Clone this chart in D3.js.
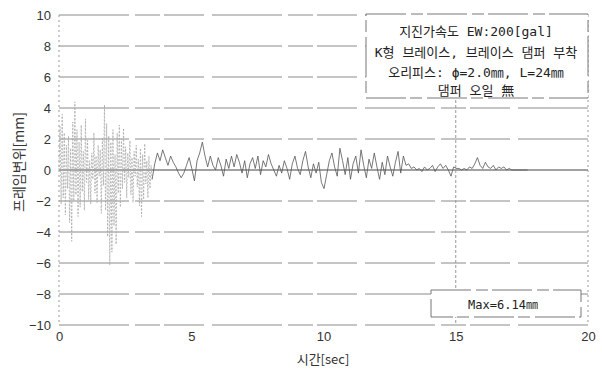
<!DOCTYPE html>
<html><head><meta charset="utf-8">
<script src="https://cdn.jsdelivr.net/npm/d3@7"></script>
<style>body{margin:0;background:#fff}svg{display:block}</style>
</head><body>
<script>
// ---- data ----
const xTicks = [0, 5, 10, 15, 20];
const yTicks = [10, 8, 6, 4, 2, 0, -2, -4, -6, -8, -10];
const earlyStart = 0, earlyDt = 0.04;
const earlyValues = [
  0, 2.8, -2.2, 3.6, -1.8, 2.4, -2.9, 1.6, -1.2, 2.2,
  -3.4, 1.4, -4.6, 3.1, -2.0, 4.4, -1.6, 2.6, -3.0, 1.8,
  -2.4, 2.9, -1.4, 1.2, -2.6, 3.3, -0.8, 1.9, -1.9, 0.6,
  -2.2, 1.1, -0.6, 2.4, -1.5, 0.9, -2.1, 1.6, -0.4, 1.3,
  -2.8, 2.1, -1.0, 4.2, -2.6, 3.0, -4.3, 2.2, -6.14, 1.8,
  -5.3, 2.6, -3.6, 1.0, -4.8, 2.4, -1.5, 2.9, -2.4, 2.0,
  -1.2, 2.7, -0.8, 1.5, -1.8, 1.1, -0.5, 1.9, -1.6, 0.8,
  -2.1, 1.2, -0.4, 1.6, -1.1, 0.7, -2.3, 1.4, -3.0, 1.0,
  -1.9, 1.7, -0.9, 0.6, -1.8, 0.9, -1.2, 0.3, -0.6
];
const lateStart = 3.52, lateDt = 0.1;
const lateValues = [
  -0.6, 0.4, 1.1, 0.6, 1.3, 0.8, 0.3, 0.9, 0.5, 0.2,
  -0.2, -0.5, -0.2, 0.3, 0.8, 0.1, -0.7, 0.6, 1.1, 1.8,
  0.9, 0.2, 0.9, 0.3, 0.0, 0.8, 0.3, -0.4, 0.7, 0.1,
  0.9, 0.2, 1.0, 0.5, -0.2, 0.6, -0.5, 0.4, 0.8, 0.1,
  0.9, -0.3, 0.6, 0.2, 1.0, 0.4, 0.0, -0.4, 0.3, -0.2,
  0.6, 0.1, -0.6, 0.4, 0.9, 0.1, -0.3, 0.6, 1.2, 0.2,
  -0.5, 0.4, -0.2, 0.5, -0.8, -1.2, -0.3, 0.6, 1.1, 0.2,
  -0.4, 1.4, 0.6, -0.3, 0.8, -0.6, 0.4, 0.9, -0.2, 1.3,
  0.3, -0.5, 0.7, 0.1, 1.1, 0.2, -0.6, 0.5, -0.3, 0.9,
  0.2, -0.4, 0.5, 1.2, -0.2, 0.9, 0.3, 0.4, 0.1, 0.2,
  0.0, 0.1, -0.1, 0.2, 0.0, 0.1, 0.3, -0.1, 0.2, 0.4,
  0.1, 0.3, 0.0, -0.4, 0.2, 0.1, 0.1, 0.0, 0.1, 0.0,
  0.2, 0.1, 0.4, 0.8, 0.3, 0.1, 0.5, 0.2, 0.1, 0.3,
  0.0, 0.2, 0.1, 0.2, 0.0, 0.1, 0.0, 0.0, 0.0, 0.0,
  0.0, 0.0, 0.0
];
const legendLines = ["지진가속도 EW:200[gal]", "K형 브레이스, 브레이스 댐퍼 부착", "오리피스: ϕ=2.0㎜, L=24㎜", "댐퍼 오일 無"];
const maxLabel = "Max=6.14㎜";
const xTitle = "시간[sec]";
const yTitle = "프레임변위[mm]";

// ---- chart ----
const W = 602, H = 369;
const mono = "DejaVu Sans Mono, Noto Sans CJK KR";
const svg = d3.select("body").append("svg").attr("width", W).attr("height", H);
const x = d3.scaleLinear().domain([0, 20]).range([59, 588]);
const y = d3.scaleLinear().domain([-10, 10]).range([325, 15]);

// grid
svg.append("g").selectAll("line").data(yTicks).join("line")
  .attr("x1", x(0)).attr("x2", x(20))
  .attr("y1", d => y(d)).attr("y2", d => y(d))
  .attr("stroke", d => d === 0 ? "#444" : "#8a8a8a")
  .attr("stroke-width", 1)
  .attr("stroke-dasharray", d => d === 0 ? null : "70,6,25,4,40,8");
svg.append("line").attr("x1", x(15)).attr("x2", x(15)).attr("y1", y(10)).attr("y2", y(-10))
  .attr("stroke", "#999").attr("stroke-dasharray", "3,2");
[0, 20].forEach(v => svg.append("line").attr("x1", x(v)).attr("x2", x(v)).attr("y1", y(10)).attr("y2", y(-10))
  .attr("stroke", "#999").attr("stroke-dasharray", "2,3"));

// axes labels
const yAxis = d3.axisLeft(y).tickValues(yTicks).tickSize(0).tickPadding(8)
  .tickFormat(d => d < 0 ? "\u2212" + Math.abs(d) : d);
const gy = svg.append("g").attr("transform", `translate(${x(0)},0)`).call(yAxis);
gy.select(".domain").remove();
gy.selectAll("text").attr("font-family", "Liberation Sans, Arial").attr("font-size", 13).attr("fill", "#333");
const xAxis = d3.axisBottom(x).tickValues(xTicks).tickSize(0).tickPadding(7);
const gx = svg.append("g").attr("transform", `translate(0,${y(-10)})`).call(xAxis);
gx.select(".domain").remove();
gx.selectAll("text").attr("font-family", "Liberation Sans, Arial").attr("font-size", 13).attr("fill", "#333");

// series
const early = earlyValues.map((v, i) => [earlyStart + i * earlyDt, v]);
const late = lateValues.map((v, i) => [lateStart + i * lateDt, v]);
const line = d3.line().x(d => x(d[0])).y(d => y(d[1]));
svg.append("path").datum(early).attr("d", line).attr("fill", "none")
  .attr("stroke", "#aaa").attr("stroke-width", 0.8).attr("stroke-dasharray", "2,1.5");
svg.append("path").datum(late).attr("d", line).attr("fill", "none")
  .attr("stroke", "#555").attr("stroke-width", 0.8);

// titles
svg.append("text").attr("x", 323).attr("y", 364).attr("text-anchor", "middle")
  .attr("font-family", "Noto Sans CJK KR").attr("font-size", 13).attr("fill", "#333").text(xTitle);
svg.append("text").attr("transform", "translate(24,162) rotate(-90)").attr("text-anchor", "middle")
  .attr("font-family", "Noto Sans CJK KR").attr("font-size", 14).attr("fill", "#333").text(yTitle);

// legend box
svg.append("rect").attr("x", 366).attr("y", 14).attr("width", 222).attr("height", 84)
  .attr("fill", "#fff").attr("stroke", "#777").attr("stroke-dasharray", "40,5,12,4");
const ly = [36, 57, 77, 95];
svg.append("g").selectAll("text").data(legendLines).join("text")
  .attr("x", 476).attr("y", (d, i) => ly[i]).attr("text-anchor", "middle")
  .attr("font-family", mono).attr("font-size", 13).attr("fill", "#222").text(d => d);

// max box
svg.append("rect").attr("x", 431).attr("y", 290).attr("width", 150).attr("height", 27)
  .attr("fill", "#fff").attr("stroke", "#777").attr("stroke-dasharray", "40,5,12,4");
svg.append("text").attr("x", 503).attr("y", 309).attr("text-anchor", "middle")
  .attr("font-family", mono).attr("font-size", 12).attr("fill", "#222").text(maxLabel);
</script>
</body></html>
